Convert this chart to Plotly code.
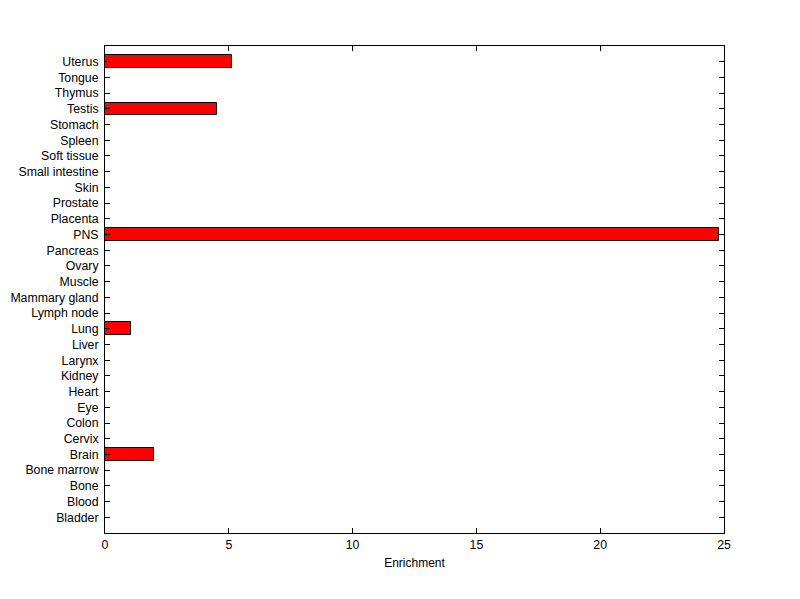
import plotly.graph_objects as go

tissues = ["Bladder", "Blood", "Bone", "Bone marrow", "Brain", "Cervix", "Colon", "Eye",
           "Heart", "Kidney", "Larynx", "Liver", "Lung", "Lymph node", "Mammary gland",
           "Muscle", "Ovary", "Pancreas", "PNS", "Placenta", "Prostate", "Skin",
           "Small intestine", "Soft tissue", "Spleen", "Stomach", "Testis", "Thymus",
           "Tongue", "Uterus"]
enrichment = [0, 0, 0, 0, 1.98, 0, 0, 0,
              0, 0, 0, 0, 1.05, 0, 0,
              0, 0, 0, 24.8, 0, 0, 0,
              0, 0, 0, 0, 4.52, 0,
              0, 5.13]
x_ticks = [0, 5, 10, 15, 20, 25]

pos = list(range(len(tissues)))

fig = go.Figure(go.Bar(
    x=enrichment, y=pos, orientation="h", width=0.8,
    marker=dict(color="#ff0000", line=dict(color="black", width=1)),
))

FONT = "Liberation Sans, Arial, sans-serif"
axis_common = dict(
    showgrid=False, zeroline=False, showline=True, linecolor="black", linewidth=1,
    mirror="ticks", ticks="inside", ticklen=5, tickcolor="black", tickwidth=1,
    automargin=False,
    tickfont=dict(family=FONT, size=12.3, color="black"),
)

fig.update_layout(
    width=800, height=599,
    margin=dict(l=97, r=84, t=38, b=74),
    paper_bgcolor="white", plot_bgcolor="white",
    showlegend=False,
    bargap=0,
    xaxis=dict(range=[0, 25], tickvals=x_ticks, ticktext=[str(v) for v in x_ticks],
               title=dict(text="Enrichment", standoff=7,
                          font=dict(family=FONT, size=12, color="black")),
               **axis_common),
    yaxis=dict(range=[-1, len(tissues)], tickvals=pos, ticktext=tissues,
               ticklabelstandoff=3, **axis_common),
)

fig.write_html("out.html")
